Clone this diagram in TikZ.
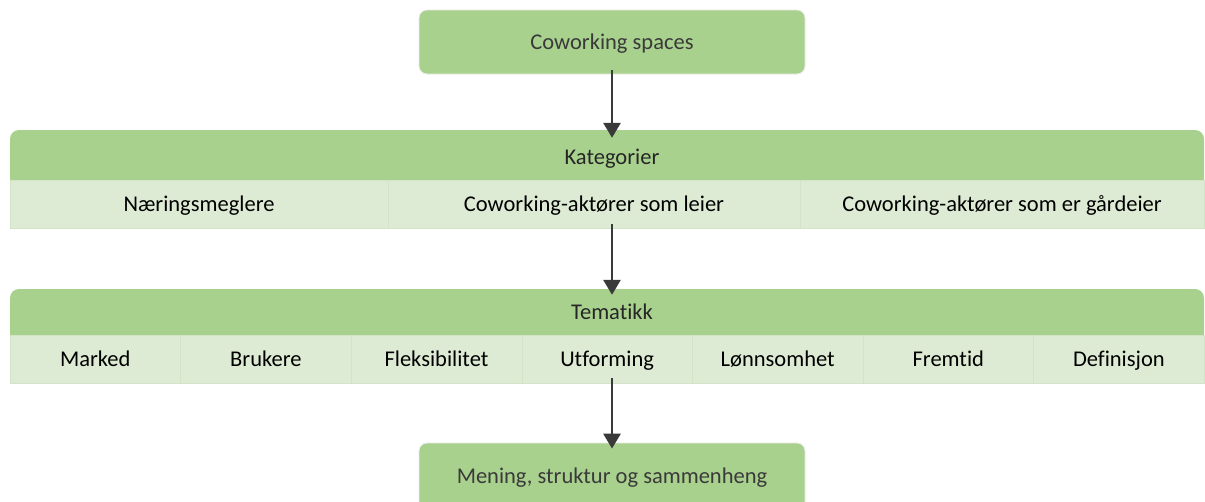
\documentclass[tikz,border=0pt]{standalone}
\usepackage{fontspec}
\setmainfont{Carlito}[RawFeature=-liga]
\usetikzlibrary{arrows.meta}
\definecolor{midgreen}{HTML}{A9D18E}
\definecolor{palegreen}{HTML}{DEEBD4}
\definecolor{cellline}{HTML}{D3E3C8}
\definecolor{inkgray}{HTML}{3A3A3A}
\newcommand{\labelfont}{\fontsize{22.5}{26}\selectfont}
\tikzset{
  even/.style={text height=17pt, text depth=3pt},
  box/.style={draw=white!92!black, line width=0.8pt, fill=midgreen, rounded corners=8pt,
    inner sep=0pt, text=inkgray, font=\labelfont, even},
  header/.style={fill=midgreen, rounded corners=9pt, inner sep=0pt},
  headtext/.style={text=black!85, font=\labelfont, even},
  cell/.style={fill=palegreen, draw=cellline, line width=0.6pt, inner sep=0pt,
    text=black, font=\labelfont, even},
  flow/.style={draw=inkgray, line width=2.8pt, -{Triangle[width=17pt,length=15pt]}},
}
\begin{document}
\begin{tikzpicture}[x=1pt,y=-1pt]
\useasboundingbox (0,0) rectangle (1205,501);
\clip (0,0) rectangle (1205,501);
\fill[white] (0,0) rectangle (1205,501);

% top and bottom boxes
\node[box, minimum width=386pt, minimum height=64pt] (top) at (612,42) {Coworking spaces};
\node[box, minimum width=386pt, minimum height=70pt] (bottom) at (612,478) {};
\node[text=inkgray, font=\labelfont, even] (bottomtext) at (612,476) {Mening, struktur og sammenheng};

% Kategorier band
\node[header, minimum width=1194pt, minimum height=62pt] (kat) at (607,161) {};
\node[headtext] (kattext) at (612,157) {Kategorier};
\node[cell, minimum width=378pt, minimum height=48pt] (k1) at (199,204) {Næringsmeglere};
\node[cell, minimum width=412pt, minimum height=48pt] (k2) at (594,204) {Coworking-aktører som leier};
\node[cell, minimum width=404pt, minimum height=48pt] (k3) at (1002,204) {Coworking-aktører som er gårdeier};

% Tematikk band
\node[header, minimum width=1194pt, minimum height=58pt] (tem) at (607,318) {};
\node[headtext] (temtext) at (612,312) {Tematikk};
\foreach \lbl [count=\i] in {Marked,Brukere,Fleksibilitet,Utforming,Lønnsomhet,Fremtid,Definisjon}{
  \node[cell, minimum width=170.6pt, minimum height=48pt] (t\i) at ({10+170.6*(\i-0.5)},359) {\lbl};
}

% connectors
\coordinate (a0) at ([yshift=4pt]top.south);
\coordinate (b0) at ([yshift=-8pt]kat.north -| top.south);
\draw[flow] (a0) -- (b0);
\coordinate (a1) at ([yshift=4pt]k2.south -| top.south);
\coordinate (b1) at ([yshift=-6pt]tem.north -| top.south);
\draw[flow] (a1) -- (b1);
\coordinate (a2) at ([yshift=5pt]t4.south -| top.south);
\coordinate (b2) at ([yshift=-6pt]bottom.north -| top.south);
\draw[flow] (a2) -- (b2);
\end{tikzpicture}
\end{document}
